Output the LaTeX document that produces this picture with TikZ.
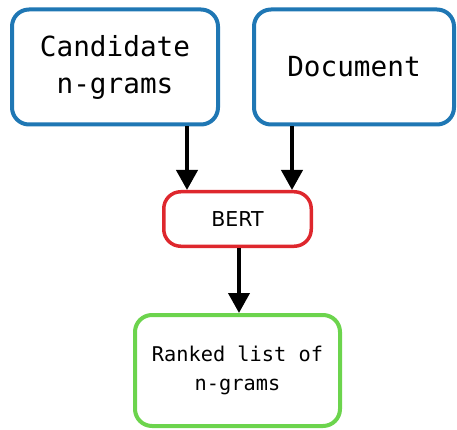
\documentclass[tikz,border=0pt]{standalone}
\usepackage{fontspec}
\setmonofont{DejaVu Sans Mono}
\newfontfamily\bertfont{DejaVu Sans}
\usepackage{tikz}
\usetikzlibrary{arrows.meta}
\usetikzlibrary{positioning}

\definecolor{boxblue}{RGB}{31,119,180}
\definecolor{boxred}{RGB}{222,39,45}
\definecolor{boxgreen}{RGB}{108,212,77}

\tikzset{
	stage/.style={draw, line width=4pt, rounded corners=17pt, align=center, inner sep=0pt},
	flow/.style={line width=4pt, -{Triangle[width=21pt,length=20pt]}},
}

\begin{document}
\begin{tikzpicture}[x=1pt, y=-1pt]
		\useasboundingbox (0,0) rectangle (457,430);
		
		\node[stage, draw=boxblue, minimum width=206pt, minimum height=115pt,
			font=\ttfamily\fontsize{27.7}{37}\selectfont] (cand) at (115,67) {Candidate\\n-grams};
		\node[stage, draw=boxblue, minimum width=200pt, minimum height=115pt,
			font=\ttfamily\fontsize{27.7}{37}\selectfont] (doc) at (354,67) {Document};
		
		\node[stage, draw=boxred, line width=3.5pt, minimum width=147.5pt, minimum height=54.5pt,
			font=\bertfont\fontsize{20.5}{24}\selectfont] (bert) at (237.5,219) {BERT};
		
		\node[stage, draw=boxgreen, minimum width=205pt, minimum height=111pt,
			font=\ttfamily\fontsize{20.3}{29}\selectfont] (ranked) at (237.5,370.5) {Ranked list of\\n-grams};
		
		\coordinate (inL) at ([xshift=-50.5pt]bert.north);
		\coordinate (inR) at ([xshift=54.5pt]bert.north);
		
		\draw[flow] (inL |- cand.south) -- (inL);
		\draw[flow] (inR |- doc.south) -- (inR);
		\draw[flow] ([xshift=1.5pt]bert.south) -- ([xshift=1.5pt]ranked.north);
\end{tikzpicture}
\end{document}
